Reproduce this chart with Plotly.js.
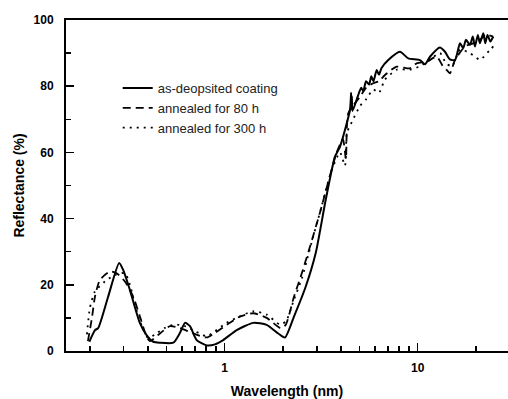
<!DOCTYPE html>
<html>
<head>
<meta charset="utf-8">
<script src="https://cdn.plot.ly/plotly-3.0.1.min.js"></script>
<style>html,body{margin:0;padding:0;background:#fff;}#chart{width:508px;height:399px;}</style>
</head>
<body>
<div id="chart"></div>
<script>
// Wavelength (x) and reflectance (%)
const asDepWl = [0.199, 0.213, 0.221, 0.249, 0.284, 0.298, 0.323, 0.364, 0.394, 0.427, 0.462, 0.542, 0.587, 0.623, 0.661, 0.716, 0.807, 0.891, 0.983, 1.154, 1.407, 1.651, 1.895, 2.053, 2.286, 2.629, 2.961, 3.337, 3.728, 3.957, 4.459, 4.52, 4.54, 4.56, 4.594, 4.9, 5.1, 5.226, 5.4, 5.6, 5.75, 5.9, 6.133, 6.3, 6.5, 7.041, 8.095, 8.94, 10.28, 10.91, 11.58, 13.05, 13.85, 14.70, 15.61, 16.57, 17.2, 17.8, 18.66, 19.3, 19.8, 20.5, 21.0, 21.88, 22.4, 23.0, 23.8, 24.65];
const asDepR  = [2.8, 6.3, 6.9, 16.4, 26.6, 24.5, 18.4, 8.4, 4.8, 2.8, 2.5, 2.5, 5.5, 8.5, 7.5, 3.3, 1.7, 2.0, 3.3, 6.3, 8.5, 7.9, 5.3, 4.1, 10.4, 19.4, 29.5, 45.6, 58.7, 61.7, 72.8, 78, 73, 77, 72.5, 77, 79.5, 78.5, 81.5, 80.5, 83, 81.5, 84.9, 83.5, 85.5, 87.9, 90.4, 88.4, 87.9, 86.6, 88.9, 91.7, 90.4, 88.1, 87.9, 93, 91.5, 94, 92.5, 95, 92, 95.5, 93, 96, 93, 95.5, 93.5, 95];

const ann80Wl = [0.1957, 0.2053, 0.2128, 0.2259, 0.2544, 0.2756, 0.3044, 0.336, 0.364, 0.3943, 0.41, 0.462, 0.521, 0.587, 0.6875, 0.8067, 0.891, 1.024, 1.2, 1.407, 1.651, 1.951, 2.071, 2.286, 2.476, 2.734, 3.144, 3.513, 3.804, 4.1, 4.25, 4.37, 5.024, 5.4, 5.889, 6.3, 6.769, 7.785, 9.123, 9.881, 11.13, 12.54, 13.52, 14.13, 14.7, 15.61, 17.58, 19.5, 21.03, 22.5, 24.6];
const ann80R  = [3, 10, 16.4, 21.5, 24, 23.5, 21, 16.4, 10.4, 4.3, 3, 5.3, 7.5, 6.9, 5.3, 4.1, 5.5, 7.9, 10.4, 11.4, 10, 6.9, 7.9, 16.4, 22.4, 30.5, 42.6, 53, 60, 64, 58, 71.8, 76.8, 79.5, 80.9, 81.5, 83.4, 85.9, 85.4, 86.9, 87.4, 88.9, 86, 84.9, 83.9, 87.9, 92, 93, 94, 95.5, 95];

const ann300Wl = [0.1934, 0.2004, 0.2128, 0.2398, 0.2701, 0.3044, 0.3231, 0.3429, 0.364, 0.4005, 0.4354, 0.4906, 0.5527, 0.6227, 0.7016, 0.8067, 0.8907, 1.024, 1.2, 1.407, 1.651, 1.934, 2.078, 2.286, 2.515, 2.767, 3.155, 3.555, 3.957, 4.2, 4.3, 4.459, 5.024, 5.4, 5.889, 6.3, 6.769, 7.812, 9.123, 10.28, 11.58, 13.05, 14.0, 15.06, 16.57, 18.66, 21.03, 23.7, 24.65];
const ann300R  = [5, 13, 18, 21, 23, 23.5, 20, 14, 9, 4, 5, 7, 8, 7.5, 6, 4.5, 6, 8.5, 10.5, 12, 11, 8, 9, 15.5, 22, 31, 43, 54, 60, 56, 66, 68, 74, 76, 79, 78, 82, 85, 85, 86, 88, 90, 87, 86, 91, 90, 88, 91, 92];

const seriesNames = ['as-deopsited coating', 'annealed for 80 h', 'annealed for 300 h'];
const xTickVals = [1, 10];
const xTickText = ['1', '10'];
const xMinorVals = [0.2, 0.3, 0.4, 0.5, 0.6, 0.7, 0.8, 0.9, 2, 3, 4, 5, 6, 7, 8, 9, 20];

const FONT = 'Arial, "Liberation Sans", sans-serif';

const traces = [
  {x: asDepWl, y: asDepR, name: seriesNames[0], mode: 'lines', line: {color: '#000', width: 2, dash: 'solid', shape: 'spline', smoothing: 0.6}},
  {x: ann80Wl, y: ann80R, name: seriesNames[1], mode: 'lines', line: {color: '#000', width: 1.8, dash: '8px,5px', shape: 'spline', smoothing: 0.6}},
  {x: ann300Wl, y: ann300R, name: seriesNames[2], mode: 'lines', line: {color: '#000', width: 1.8, dash: '2px,5px', shape: 'spline', smoothing: 0.6}}
];

const layout = {
  width: 508, height: 399,
  margin: {l: 66, r: 0, t: 20, b: 48},
  paper_bgcolor: '#fff', plot_bgcolor: '#fff',
  font: {family: FONT, color: '#000'},
  showlegend: true,
  legend: {x: 0.117, y: 0.84, xanchor: 'left', yanchor: 'top', bgcolor: 'rgba(0,0,0,0)',
           font: {family: FONT, size: 13, color: '#222'}, tracegroupgap: 0},
  xaxis: {
    type: 'log', range: [-0.822, 1.468],
    showline: true, linecolor: '#000', linewidth: 2, mirror: true,
    showgrid: false, zeroline: false,
    ticks: 'inside', ticklen: 8, tickwidth: 1.5, tickcolor: '#000',
    tickmode: 'array', tickvals: xTickVals, ticktext: xTickText,
    ticklabelstandoff: 5,
    tickfont: {family: FONT, size: 12, weight: 'bold', color: '#000'},
    minor: {tickmode: 'array', tickvals: xMinorVals, ticks: 'inside', ticklen: 5, tickwidth: 1.5, tickcolor: '#000', showgrid: false},
    title: {text: 'Wavelength (nm)', font: {family: FONT, size: 14, weight: 'bold', color: '#000'}, standoff: 16}
  },
  yaxis: {
    range: [0, 100],
    showline: true, linecolor: '#000', linewidth: 2, mirror: false,
    showgrid: false, zeroline: false,
    ticks: 'inside', ticklen: 8, tickwidth: 1.5, tickcolor: '#000',
    dtick: 20, tick0: 0,
    tickfont: {family: FONT, size: 12, weight: 'bold', color: '#000'},
    minor: {dtick: 10, ticks: 'inside', ticklen: 5, tickwidth: 1.5, tickcolor: '#000', showgrid: false},
    ticklabelstandoff: 8,
    title: {text: 'Reflectance (%)', font: {family: FONT, size: 14, weight: 'bold', color: '#000'}, standoff: 6}
  }
};

Plotly.newPlot('chart', traces, layout, {displayModeBar: false, staticPlot: true});
</script>
</body>
</html>
